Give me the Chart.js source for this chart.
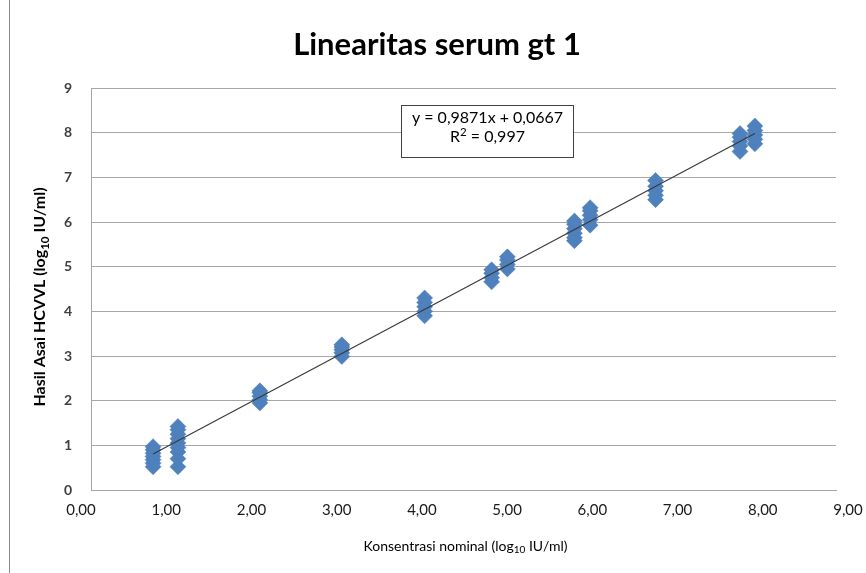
<!DOCTYPE html>
<html><head><meta charset="utf-8">
<script src="https://cdn.jsdelivr.net/npm/chart.js@4/dist/chart.umd.min.js"></script>
<style>html,body{margin:0;padding:0;background:#fff;overflow:hidden}#wrap{position:absolute;left:0;top:0;width:866px;height:573px}</style>
</head><body><div id="wrap"><canvas id="c" width="866" height="573"></canvas></div>
<script>
const chartTitle = 'Linearitas serum gt 1';
const nominalX = [0.75, 1.05, 2.04, 3.03, 4.03, 4.84, 5.03, 5.84, 6.03, 6.82, 7.84, 8.02];
const measuredY = [
  [0.52, 0.60, 0.68, 0.75, 0.82, 0.90, 0.97],
  [0.52, 0.70, 0.85, 0.95, 1.05, 1.15, 1.25, 1.35, 1.42],
  [1.95, 2.02, 2.10, 2.18, 2.22],
  [2.99, 3.07, 3.14, 3.20, 3.25],
  [3.90, 4.00, 4.10, 4.20, 4.30],
  [4.66, 4.75, 4.85, 4.93],
  [4.95, 5.05, 5.15, 5.22],
  [5.58, 5.65, 5.75, 5.85, 5.95, 6.02],
  [5.93, 6.05, 6.15, 6.25, 6.32],
  [6.50, 6.60, 6.70, 6.80, 6.93],
  [7.58, 7.70, 7.80, 7.90, 7.98],
  [7.75, 7.85, 7.95, 8.05, 8.15]
];
const xTickValues = [0, 1, 2, 3, 4, 5, 6, 7, 8, 9];
const yTickValues = [0, 1, 2, 3, 4, 5, 6, 7, 8, 9];
const trendSlope = 0.9871;
const trendIntercept = 0.0667;
const rSquared = '0,997';
const xAxisTitle = [['Konsentrasi nominal (log', 'n'], ['10', 'sub'], [' IU/ml)', 'n']];
const yAxisTitle = [['Hasil Asai HCVVL (log', 'n'], ['10', 'sub'], [' IU/ml)', 'n']];

const points = [];
nominalX.forEach((x, i) => measuredY[i].forEach(y => points.push({x: x, y: y})));
const xMin = Math.min(...nominalX), xMax = Math.max(...nominalX);
const trend = [xMin, xMax].map(x => ({x: x, y: trendSlope * x + trendIntercept}));

const FONT = 'Lato, "Open Sans", sans-serif';
const fmtX = v => Number(v).toFixed(2).replace('.', ',');

function drawRich(ctx, parts, size, weight, cx, cy) {
  const segs = parts.map(([t, k]) => {
    const s = k === 'n' ? size : size * 0.72;
    ctx.font = weight + ' ' + s + 'px ' + FONT;
    return {t, k, s, w: ctx.measureText(t).width};
  });
  const total = segs.reduce((a, b) => a + b.w, 0);
  let x = cx - total / 2;
  ctx.textBaseline = 'middle';
  ctx.textAlign = 'left';
  segs.forEach(sg => {
    ctx.font = weight + ' ' + sg.s + 'px ' + FONT;
    let dy = 0;
    if (sg.k === 'sub') dy = size * 0.3;
    if (sg.k === 'sup') dy = -size * 0.32;
    ctx.fillText(sg.t, x, cy + dy);
    x += sg.w;
  });
}

const decor = {
  id: 'decor',
  afterDraw(chart) {
    const ctx = chart.ctx;
    const a = chart.chartArea;
    const xs = chart.scales.x;
    ctx.save();
    // outer frame left edge
    ctx.strokeStyle = '#8c8c8c';
    ctx.lineWidth = 1;
    ctx.beginPath(); ctx.moveTo(9.5, 0); ctx.lineTo(9.5, 573); ctx.stroke();
    // x tick labels (spread slightly wider than the plot, as in the reference)
    ctx.fillStyle = '#1a1a1a';
    ctx.font = 'normal 15px ' + FONT;
    ctx.textAlign = 'center'; ctx.textBaseline = 'middle';
    xTickValues.forEach(v => {
      const px = xs.getPixelForValue(v);
      const frac = (px - a.left) / (a.right - a.left);
      ctx.fillText(fmtX(v), (a.left - 10) + frac * (a.right - a.left + 22), a.bottom + 20);
    });
    // title
    ctx.fillStyle = '#000';
    ctx.font = 'bold 31px ' + FONT;
    ctx.fillText(chartTitle, 437, 45);
    // x axis title
    drawRich(ctx, xAxisTitle, 14, 'normal', (a.left + a.right) / 2 + 2, 546);
    // y axis title
    ctx.save();
    ctx.translate(40, (a.top + a.bottom) / 2 + 8);
    ctx.rotate(-Math.PI / 2);
    drawRich(ctx, yAxisTitle, 16, 'bold', 0, 0);
    ctx.restore();
    // equation box
    const bx = 401.5, by = 105.5, bw = 172, bh = 52;
    ctx.fillStyle = '#fff';
    ctx.fillRect(bx, by, bw, bh);
    ctx.strokeStyle = '#404040';
    ctx.strokeRect(bx, by, bw, bh);
    ctx.fillStyle = '#000';
    ctx.font = 'normal 16px ' + FONT;
    ctx.textAlign = 'center'; ctx.textBaseline = 'middle';
    const eq = 'y = ' + String(trendSlope).replace('.', ',') + 'x + ' + String(trendIntercept).replace('.', ',');
    ctx.fillText(eq, bx + bw / 2, 118);
    drawRich(ctx, [['R', 'n'], ['2', 'sup'], [' = ' + rSquared, 'n']], 16, 'normal', bx + bw / 2, 137);
    ctx.restore();
  }
};

new Chart(document.getElementById('c'), {
  type: 'scatter',
  data: {
    datasets: [
      {
        type: 'line',
        data: trend,
        borderColor: '#3a3a3a',
        borderWidth: 1.2,
        pointRadius: 0,
        fill: false,
        order: 0
      },
      {
        data: points,
        pointStyle: 'rectRot',
        pointRadius: 8,
        pointBackgroundColor: '#4f81bd',
        pointBorderColor: '#4a7ebb',
        pointBorderWidth: 0.5,
        order: 1
      }
    ]
  },
  options: {
    responsive: false,
    animation: false,
    devicePixelRatio: 1,
    layout: {padding: {left: 0, right: 30, top: 88, bottom: 0}},
    plugins: {legend: {display: false}, tooltip: {enabled: false}},
    scales: {
      x: {
        type: 'linear', min: 0, max: 9,
        afterBuildTicks: s => { s.ticks = xTickValues.map(v => ({value: v})); },
        afterFit: s => { s.height = 83; },
        grid: {display: false, drawTicks: false},
        border: {display: true, color: '#a6a6a6', width: 1},
        ticks: {display: false, callback: fmtX}
      },
      y: {
        type: 'linear', min: 0, max: 9,
        afterBuildTicks: s => { s.ticks = yTickValues.map(v => ({value: v})); },
        afterFit: s => { s.width = 91; },
        grid: {color: '#a6a6a6', lineWidth: 1, drawTicks: false},
        border: {display: true, color: '#a6a6a6', width: 1},
        ticks: {
          padding: 19,
          color: '#404040',
          font: {family: FONT, size: 14, weight: 'bold'},
          callback: v => String(v)
        }
      }
    }
  },
  plugins: [decor]
});
</script>
</body></html>
